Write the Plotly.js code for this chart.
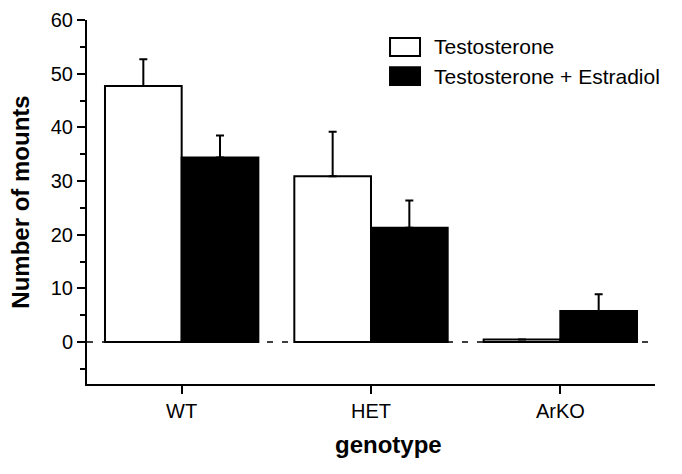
<!DOCTYPE html>
<html>
<head>
<meta charset="utf-8">
<script src="https://cdn.plot.ly/plotly-3.0.1.min.js"></script>
<style>html,body{margin:0;padding:0;background:#fff;}#chart{width:682px;height:474px;}</style>
</head>
<body>
<div id="chart"></div>
<script>
const genotypes = ["WT", "HET", "ArKO"];
const seriesNames = ["Testosterone", "Testosterone + Estradiol"];
const testosterone = [47.7, 30.9, 0.5];
const testosteroneErr = [5.0, 8.3, 0];
const testEstradiol = [34.4, 21.3, 5.8];
const testEstradiolErr = [4.1, 5.1, 3.1];
const zeros = [0, 0, 0];

const font = "Liberation Sans, Arial, sans-serif";

const traces = [
  {
    type: "bar", name: seriesNames[0], x: genotypes, y: testosterone,
    marker: {color: "#ffffff", line: {color: "#000000", width: 2}},
    error_y: {type: "data", array: testosteroneErr, arrayminus: zeros, symmetric: false,
              color: "#000000", thickness: 2, width: 4},
    showlegend: false
  },
  {
    type: "bar", name: seriesNames[1], x: genotypes, y: testEstradiol,
    marker: {color: "#000000", line: {color: "#000000", width: 2}},
    error_y: {type: "data", array: testEstradiolErr, arrayminus: zeros, symmetric: false,
              color: "#000000", thickness: 2, width: 4},
    showlegend: false
  }
];

const layout = {
  width: 682, height: 474,
  margin: {l: 87, r: 27, t: 20, b: 90},
  paper_bgcolor: "#ffffff", plot_bgcolor: "#ffffff",
  font: {family: font, color: "#000000", size: 20},
  barmode: "group", bargap: 0.19, bargroupgap: 0,
  showlegend: false,
  xaxis: {
    type: "category", range: [-0.5, 2.5],
    showline: true, linecolor: "#000000", linewidth: 2,
    ticks: "outside", ticklen: 8, tickwidth: 2, tickcolor: "#000000",
    tickfont: {size: 20, family: font}, showgrid: false, zeroline: false,
    fixedrange: true
  },
  yaxis: {
    range: [-7.8, 60], tick0: 0, dtick: 10,
    showline: true, linecolor: "#000000", linewidth: 2,
    ticks: "outside", ticklen: 8, tickwidth: 2, tickcolor: "#000000",
    minor: {dtick: 5, tick0: 0, ticks: "outside", ticklen: 5, tickwidth: 2, tickcolor: "#000000", showgrid: false},
    tickfont: {size: 20, family: font}, showgrid: false, zeroline: false,
    title: {text: "<b>Number of mounts</b>", font: {size: 24, family: font}, standoff: 14},
    fixedrange: true
  },
  shapes: [
    {type: "line", xref: "paper", yref: "y", x0: 0, x1: 1, y0: 0, y1: 0,
     line: {color: "#000000", width: 1.5, dash: "6px,9px"}, layer: "above"},
    {type: "rect", xref: "paper", yref: "paper", x0: 0.5335, x1: 0.5863, y0: 0.901, y1: 0.9505,
     line: {color: "#000000", width: 2}, fillcolor: "#ffffff"},
    {type: "rect", xref: "paper", yref: "paper", x0: 0.5335, x1: 0.5863, y0: 0.8214, y1: 0.870,
     line: {color: "#000000", width: 2}, fillcolor: "#000000"}
  ],
  annotations: [
    {xref: "paper", yref: "paper", x: 0.6074, y: 0.926, xanchor: "left", yanchor: "middle",
     text: seriesNames[0], showarrow: false, font: {size: 21, family: font}},
    {xref: "paper", yref: "paper", x: 0.6074, y: 0.846, xanchor: "left", yanchor: "middle",
     text: seriesNames[1], showarrow: false, font: {size: 21, family: font}},
    {xref: "paper", yref: "paper", x: (388 - 87) / 568, y: -(444 - 384) / 364, xanchor: "center", yanchor: "middle",
     text: "<b>genotype</b>", showarrow: false, font: {size: 24, family: font}}
  ]
};

Plotly.newPlot("chart", traces, layout, {displayModeBar: false, staticPlot: true});
</script>
</body>
</html>
